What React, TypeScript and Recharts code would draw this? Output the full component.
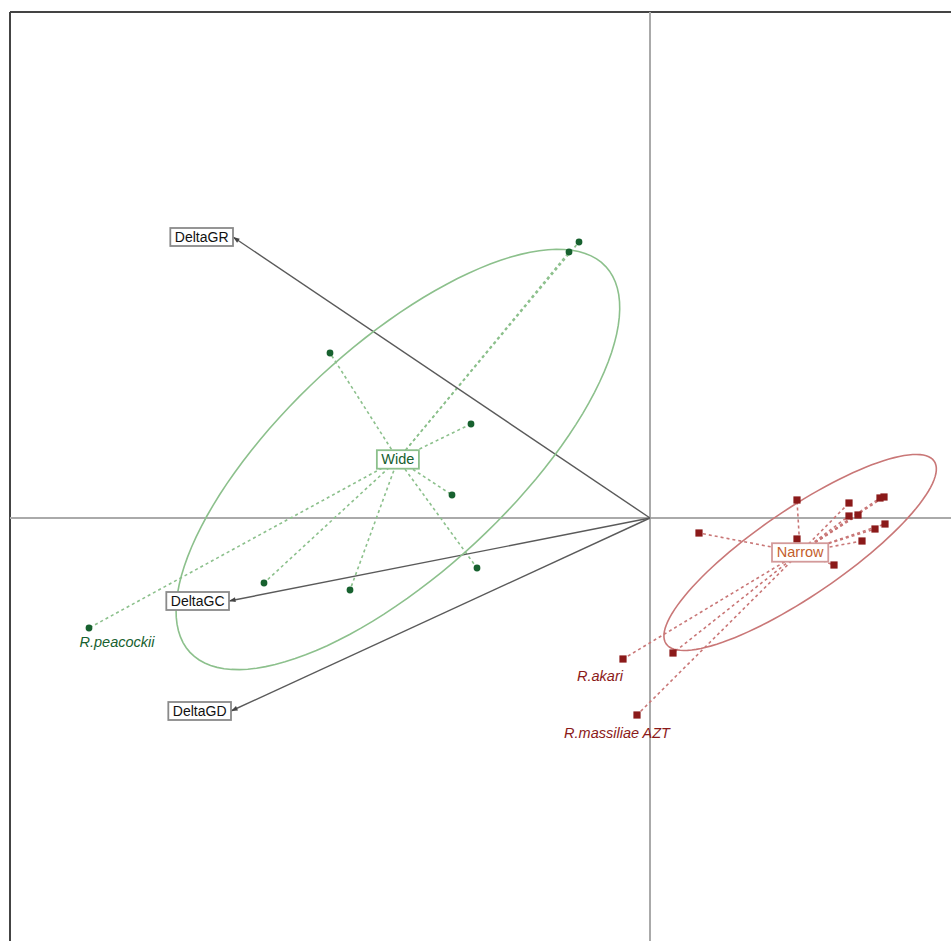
import { useLayoutEffect, useRef, useState } from "react";
import { ComposedChart, Scatter, XAxis, YAxis, ReferenceLine, ReferenceDot } from "recharts";

// coordinates on the two principal axes (arbitrary units)
const widePoints = [
  { x: -0.71, y: 2.76 },
  { x: -0.81, y: 2.66 },
  { x: -3.2, y: 1.65 },
  { x: -1.79, y: 0.94 },
  { x: -1.98, y: 0.23 },
  { x: -1.73, y: -0.5 },
  { x: -3.0, y: -0.72 },
  { x: -3.86, y: -0.65 },
  { x: -5.61, y: -1.1 },
];

const narrowPoints = [
  { x: 1.47, y: 0.18 },
  { x: 1.99, y: 0.15 },
  { x: 2.3, y: 0.2 },
  { x: 2.34, y: 0.21 },
  { x: 1.99, y: 0.02 },
  { x: 2.08, y: 0.03 },
  { x: 1.47, y: -0.21 },
  { x: 2.25, y: -0.11 },
  { x: 2.35, y: -0.06 },
  { x: 2.12, y: -0.23 },
  { x: 1.84, y: -0.47 },
  { x: 0.49, y: -0.15 },
  { x: 0.23, y: -1.35 },
  { x: -0.27, y: -1.41 },
  { x: -0.13, y: -1.97 },
];

const variables = [
  { name: "DeltaGR", x: -4.17, y: 2.81 },
  { name: "DeltaGC", x: -4.21, y: -0.83 },
  { name: "DeltaGD", x: -4.19, y: -1.93 },
];

const speciesLabels = [
  { name: "R.peacockii", x: -5.33, y: -1.24, group: "Wide" },
  { name: "R.akari", x: -0.5, y: -1.58, group: "Narrow" },
  { name: "R.massiliae AZT", x: -0.33, y: -2.15, group: "Narrow" },
];

const X_DOMAIN: [number, number] = [-6.4, 3.5];
const Y_DOMAIN: [number, number] = [-4.82, 5.06];

const FONT = "'Liberation Sans', Arial, sans-serif";
const GREEN = "#17612f";
const GREEN_LIGHT = "#8cc08c";
const RED = "#8b1a1a";
const RED_LIGHT = "#c97777";

type Pt = { x: number; y: number };

function centroid(pts: Pt[]): Pt {
  const n = pts.length;
  return {
    x: pts.reduce((s, p) => s + p.x, 0) / n,
    y: pts.reduce((s, p) => s + p.y, 0) / n,
  };
}

// inertia ellipse like ade4 s.class (cellipse = 1.5)
function ellipse(pts: Pt[], k = 1.5, steps = 120): Pt[] {
  const c = centroid(pts);
  const n = pts.length;
  let sxx = 0, syy = 0, sxy = 0;
  pts.forEach((p) => {
    sxx += (p.x - c.x) ** 2;
    syy += (p.y - c.y) ** 2;
    sxy += (p.x - c.x) * (p.y - c.y);
  });
  sxx /= n; syy /= n; sxy /= n;
  const tr = (sxx + syy) / 2;
  const disc = Math.sqrt(tr * tr - (sxx * syy - sxy * sxy));
  const l1 = tr + disc;
  const l2 = tr - disc;
  const ang = Math.atan2(l1 - sxx, sxy);
  const a = k * Math.sqrt(l1);
  const b = k * Math.sqrt(Math.max(l2, 0));
  const out: Pt[] = [];
  for (let i = 0; i <= steps; i++) {
    const t = (i / steps) * Math.PI * 2;
    const u = a * Math.cos(t);
    const v = b * Math.sin(t);
    out.push({
      x: c.x + u * Math.cos(ang) - v * Math.sin(ang),
      y: c.y + u * Math.sin(ang) + v * Math.cos(ang),
    });
  }
  return out;
}

function BoxLabel({
  cx,
  cy,
  text,
  color,
  border,
  anchor = "middle",
  fontSize = 14,
}: {
  cx: number;
  cy: number;
  text: string;
  color: string;
  border: string;
  anchor?: "middle" | "end";
  fontSize?: number;
}) {
  const ref = useRef<SVGTextElement>(null);
  const [w, setW] = useState(text.length * 7.5);
  useLayoutEffect(() => {
    if (ref.current) setW(ref.current.getBBox().width);
  }, [text]);
  const pad = 4.5;
  const bw = w + pad * 2;
  const bh = fontSize + 4;
  const left = anchor === "end" ? cx - bw : cx - bw / 2;
  return (
    <g>
      <rect x={left} y={cy - bh / 2} width={bw} height={bh} fill="#fff" stroke={border} strokeWidth={1.8} />
      <text
        ref={ref}
        x={left + bw / 2}
        y={cy}
        textAnchor="middle"
        dominantBaseline="central"
        fontFamily={FONT}
        fontSize={fontSize}
        fill={color}
      >
        {text}
      </text>
    </g>
  );
}

function Arrow(props: any) {
  const { x1, y1, x2, y2 } = props;
  const ang = Math.atan2(y2 - y1, x2 - x1);
  const len = 7;
  const spread = 0.35;
  const p1 = [x2 - len * Math.cos(ang - spread), y2 - len * Math.sin(ang - spread)];
  const p2 = [x2 - len * Math.cos(ang + spread), y2 - len * Math.sin(ang + spread)];
  return (
    <g>
      <line x1={x1} y1={y1} x2={x2} y2={y2} stroke="#5a5a5a" strokeWidth={1.4} />
      <polygon points={`${x2},${y2} ${p1[0]},${p1[1]} ${p2[0]},${p2[1]}`} fill="#444" />
    </g>
  );
}

const circle = (p: any) => <circle cx={p.cx} cy={p.cy} r={3.4} fill={GREEN} />;
const square = (p: any) => <rect x={p.cx - 3.6} y={p.cy - 3.6} width={7.2} height={7.2} fill={RED} />;
const noShape = () => <g />;

export default function App() {
  const wideC = centroid(widePoints);
  const narrowC = centroid(narrowPoints);
  const wideEll = ellipse(widePoints);
  const narrowEll = ellipse(narrowPoints);

  return (
    <div style={{ position: "fixed", top: 0, left: 0, width: 951, height: 941, overflow: "hidden", background: "#fff" }}>
      <ComposedChart width={1000} height={1000} margin={{ top: 12, left: 10, right: 0, bottom: 0 }}>
        <XAxis type="number" dataKey="x" domain={X_DOMAIN} hide allowDataOverflow />
        <YAxis type="number" dataKey="y" domain={Y_DOMAIN} hide allowDataOverflow />

        {/* frame */}
        <ReferenceLine x={X_DOMAIN[0]} stroke="#444" strokeWidth={2} />
        <ReferenceLine y={Y_DOMAIN[1]} stroke="#444" strokeWidth={2} />
        {/* principal axes */}
        <ReferenceLine x={0} stroke="#aaa" strokeWidth={2} />
        <ReferenceLine y={0} stroke="#aaa" strokeWidth={2} />

        <Scatter data={wideEll} line={{ stroke: GREEN_LIGHT, strokeWidth: 1.6 }} shape={noShape} isAnimationActive={false} />
        <Scatter data={narrowEll} line={{ stroke: RED_LIGHT, strokeWidth: 1.6 }} shape={noShape} isAnimationActive={false} />

        {widePoints.map((p, i) => (
          <ReferenceLine
            key={`ws${i}`}
            segment={[wideC, p]}
            stroke={GREEN_LIGHT}
            strokeWidth={1.6}
            strokeDasharray="3 3"
          />
        ))}
        {narrowPoints.map((p, i) => (
          <ReferenceLine
            key={`ns${i}`}
            segment={[narrowC, p]}
            stroke={RED_LIGHT}
            strokeWidth={1.6}
            strokeDasharray="3 3"
          />
        ))}

        {variables.map((v) => (
          <ReferenceLine key={v.name} segment={[{ x: 0, y: 0 }, { x: v.x, y: v.y }]} shape={Arrow} />
        ))}

        <Scatter data={widePoints} shape={circle} isAnimationActive={false} />
        <Scatter data={narrowPoints} shape={square} isAnimationActive={false} />

        {variables.map((v) => (
          <ReferenceDot
            key={`l${v.name}`}
            x={v.x}
            y={v.y}
            shape={(p: any) => (
              <BoxLabel cx={p.cx} cy={p.cy} text={v.name} color="#111" border="#8a8a8a" anchor="end" />
            )}
          />
        ))}

        <ReferenceDot
          x={wideC.x}
          y={wideC.y}
          shape={(p: any) => <BoxLabel cx={p.cx} cy={p.cy} text="Wide" color={GREEN} border={GREEN_LIGHT} fontSize={14.5} />}
        />
        <ReferenceDot
          x={narrowC.x}
          y={narrowC.y}
          shape={(p: any) => <BoxLabel cx={p.cx} cy={p.cy} text="Narrow" color="#c4602c" border="#d39a9a" fontSize={14.5} />}
        />

        {speciesLabels.map((s) => (
          <ReferenceDot
            key={s.name}
            x={s.x}
            y={s.y}
            shape={(p: any) => (
              <text
                x={p.cx}
                y={p.cy}
                textAnchor="middle"
                dominantBaseline="central"
                fontFamily={FONT}
                fontSize={14.5}
                fontStyle="italic"
                fill={s.group === "Wide" ? GREEN : RED}
              >
                {s.name}
              </text>
            )}
          />
        ))}
      </ComposedChart>
    </div>
  );
}
